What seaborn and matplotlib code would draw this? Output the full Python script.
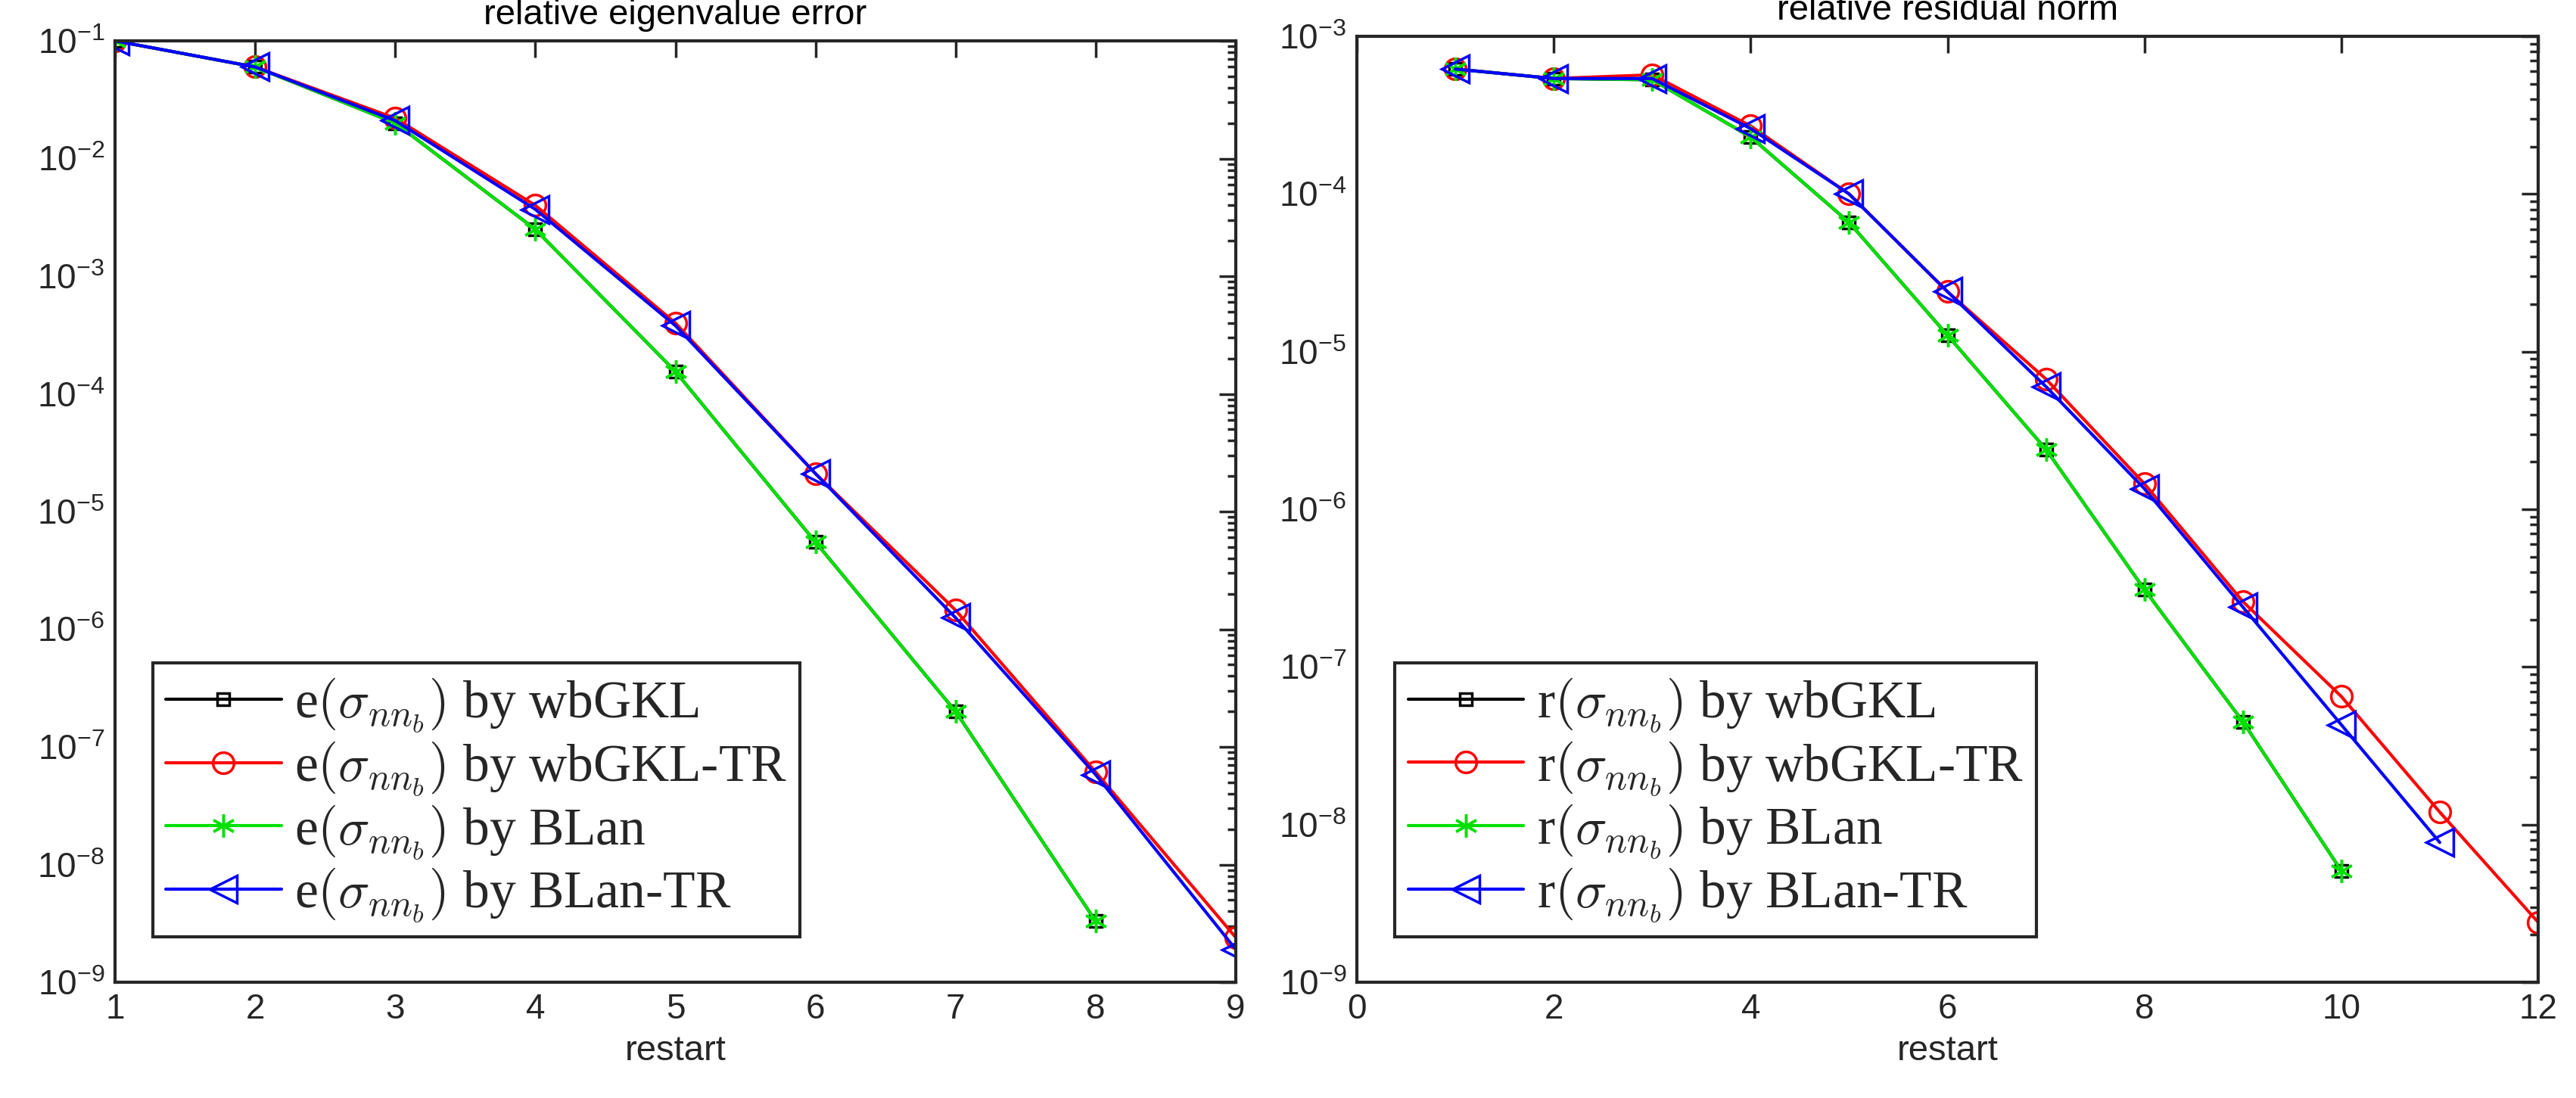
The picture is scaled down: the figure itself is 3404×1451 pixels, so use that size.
import numpy as np
import pandas as pd
import matplotlib
matplotlib.use('Agg')
import matplotlib.pyplot as plt
import seaborn as sns
from matplotlib.ticker import LogLocator, NullFormatter

sns.set_theme(style='white')
plt.rcParams['font.family'] = ['Liberation Sans', 'DejaVu Sans']
plt.rcParams['mathtext.fontset'] = 'cm'

# ---- data: left panel (relative eigenvalue error) ----
eig_x = [1, 2, 3, 4, 5, 6, 7, 8, 9]
eig_blan = [0.1, 0.06, 0.02, 0.0025, 1.55e-4, 5.5e-6, 2.0e-7, 3.3e-9]
eig_wbgkl = eig_blan
eig_wbgkl_tr = [0.1, 0.06, 0.022, 0.004, 4.0e-4, 2.1e-5, 1.45e-6, 6.1e-8, 2.4e-9]
eig_blan_tr = [0.1, 0.06, 0.021, 0.0037, 3.8e-4, 2.1e-5, 1.25e-6, 5.8e-8, 1.9e-9]

# ---- data: right panel (relative residual norm) ----
res_x = [1, 2, 3, 4, 5, 6, 7, 8, 9, 10, 11, 12]
res_blan = [6.2e-4, 5.4e-4, 5.3e-4, 2.3e-4, 6.6e-5, 1.27e-5, 2.4e-6, 3.1e-7, 4.5e-8, 5.1e-9]
res_wbgkl = res_blan
res_wbgkl_tr = [6.2e-4, 5.4e-4, 5.7e-4, 2.7e-4, 1.0e-4, 2.4e-5, 6.7e-6, 1.45e-6, 2.6e-7, 6.5e-8, 1.2e-8, 2.4e-9]
res_blan_tr = [6.2e-4, 5.4e-4, 5.4e-4, 2.6e-4, 1.0e-4, 2.4e-5, 6.0e-6, 1.35e-6, 2.4e-7, 4.3e-8, 7.7e-9]

methods = ['wbGKL', 'wbGKL-TR', 'BLan', 'BLan-TR']
colors = ['black', 'red', '#00e000', 'blue']
markers = ['s', 'o', (6, 2, 0), '<']
msizes = [12, 20, 22, 26]

fig = plt.figure(figsize=(34.04, 14.51), dpi=100)
ax1 = fig.add_axes([152 / 3404, 1 - 1298 / 1451, 1481 / 3404, 1244 / 1451])
ax2 = fig.add_axes([1793 / 3404, 1 - 1298 / 1451, 1561 / 3404, 1250 / 1451])


def draw(ax, x, series, prefix, title, xlim, ylim, xticks):
    for ys, m, c, mk, ms in zip(series, methods, colors, markers, msizes):
        xs = x[:len(ys)]
        label = prefix + r'$(\sigma_{nn_b})$ by ' + m
        sns.lineplot(x=xs, y=ys, ax=ax, color=c, marker=mk, markersize=ms,
                     markerfacecolor='none', markeredgecolor=c, markeredgewidth=2.5,
                     linewidth=3, label=label)
    ax.set_yscale('log')
    ax.set_xlim(*xlim)
    ax.set_ylim(*ylim)
    ax.set_xticks(xticks)
    ax.yaxis.set_major_locator(LogLocator(base=10, numticks=20))
    ax.yaxis.set_minor_locator(LogLocator(base=10, subs=np.arange(2, 10), numticks=20))
    ax.yaxis.set_minor_formatter(NullFormatter())
    ax.tick_params(axis='both', which='both', direction='in', top=True, right=True,
                   labelsize=33, colors='#262626', width=2.5, pad=10)
    ax.tick_params(which='major', length=16)
    ax.tick_params(which='minor', length=8)
    for s in ax.spines.values():
        s.set_linewidth(3)
        s.set_color('#262626')
    ax.set_title(title, fontsize=34, color='black', pad=16)
    ax.set_xlabel('restart', fontsize=34, color='#262626', labelpad=8)
    ax.grid(False)
    leg = ax.legend(loc='lower left', prop={'family': 'Liberation Serif', 'size': 50},
                    frameon=True, fancybox=False, framealpha=1,
                    edgecolor='#262626', handlelength=2.2, borderpad=0.25,
                    labelspacing=0.1, handletextpad=0.25, bbox_to_anchor=(0.01, 0.02))
    leg.get_frame().set_linewidth(3)


draw(ax1, eig_x, [eig_wbgkl, eig_wbgkl_tr, eig_blan, eig_blan_tr], 'e',
     'relative eigenvalue error', (1, 9), (1e-9, 1e-1), range(1, 10))
draw(ax2, res_x, [res_wbgkl, res_wbgkl_tr, res_blan, res_blan_tr], 'r',
     'relative residual norm', (0, 12), (1e-9, 1e-3), range(0, 13, 2))

fig.savefig('out.png', dpi=100)
